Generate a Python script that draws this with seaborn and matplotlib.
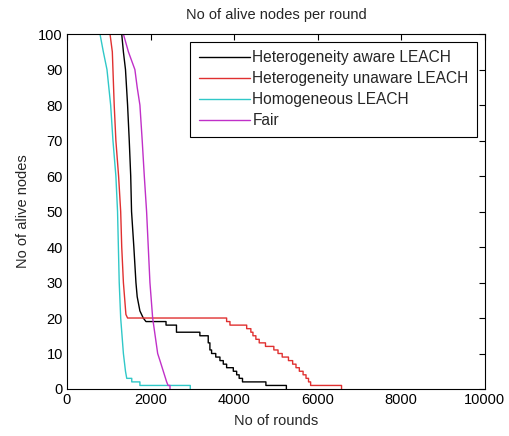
import pandas as pd
import seaborn as sns
import matplotlib
matplotlib.use("Agg")
import matplotlib.pyplot as plt

# values (rounds, alive nodes); repeated x = a one-step drop
aware_rounds = [0, 1310, 1350, 1400, 1450, 1490, 1525, 1545, 1600, 1650, 1680, 1745, 1825, 1890,
                2370, 2370, 2620, 2620, 3180, 3180, 3380, 3380, 3420, 3420, 3460, 3460,
                3560, 3560, 3660, 3660, 3740, 3740, 3820, 3820, 3980, 3980, 4060, 4060,
                4120, 4120, 4200, 4200, 4760, 4760, 5250, 5250]
aware_alive = [100, 100, 95, 90, 80, 70, 60, 50, 40, 30, 26, 22, 20, 19,
               19, 18, 18, 16, 16, 15, 15, 13, 13, 11, 11, 10,
               10, 9, 9, 8, 8, 7, 7, 6, 6, 5, 5, 4,
               4, 3, 3, 2, 2, 1, 1, 0]

unaware_rounds = [0, 1030, 1085, 1100, 1130, 1170, 1235, 1285, 1310, 1350, 1410, 1450,
                  3820, 3820, 3900, 3900, 4300, 4300, 4400, 4400, 4450, 4450, 4520, 4520,
                  4600, 4600, 4750, 4750, 4950, 4950, 5050, 5050, 5150, 5150, 5300, 5300,
                  5400, 5400, 5480, 5480, 5560, 5560, 5650, 5650, 5720, 5720, 5780, 5780,
                  5830, 5830, 6570, 6570]
unaware_alive = [100, 100, 95, 90, 80, 70, 60, 50, 40, 30, 21, 20,
                 20, 19, 19, 18, 18, 17, 17, 16, 16, 15, 15, 14,
                 14, 13, 13, 12, 12, 11, 11, 10, 10, 9, 9, 8,
                 8, 7, 7, 6, 6, 5, 5, 4, 4, 3, 3, 2,
                 2, 1, 1, 0]

homog_rounds = [0, 790, 870, 957, 1045, 1100, 1170, 1210, 1230, 1250, 1285, 1350, 1400, 1430,
                1550, 1550, 1745, 1745, 2950, 2950]
homog_alive = [100, 100, 95, 90, 80, 70, 60, 50, 40, 30, 20, 10, 5, 3,
               3, 2, 2, 1, 1, 0]

fair_rounds = [0, 1350, 1470, 1625, 1680, 1745, 1800, 1850, 1905, 1945, 1985, 2050, 2110,
               2170, 2225, 2305, 2385, 2420, 2465, 2465]
fair_alive = [100, 100, 95, 90, 85, 80, 70, 60, 50, 40, 30, 20, 15,
              10, 8, 5, 2, 1, 1, 0]

labels = ["Heterogeneity aware LEACH", "Heterogeneity unaware LEACH", "Homogeneous LEACH", "Fair"]
colors = ["#000000", "#e03030", "#30c8c8", "#c030c8"]

frames = []
for lab, r, a in zip(labels,
                     [aware_rounds, unaware_rounds, homog_rounds, fair_rounds],
                     [aware_alive, unaware_alive, homog_alive, fair_alive]):
    frames.append(pd.DataFrame({"rounds": r, "alive": a, "scheme": lab}))
df = pd.concat(frames, ignore_index=True)

sns.set_theme(style="white")
plt.rcParams["font.family"] = ["Liberation Sans", "DejaVu Sans"]
plt.rcParams["font.size"] = 10

fig = plt.figure(figsize=(5.09, 4.36), dpi=100)
ax = fig.add_axes([0.1316, 0.1078, 0.821, 0.814])

sns.lineplot(data=df, x="rounds", y="alive", hue="scheme", hue_order=labels,
             palette=colors, estimator=None, sort=False, linewidth=1.0, ax=ax)

ax.set_xlim(0, 10000)
ax.set_ylim(0, 100)
ax.set_xticks(range(0, 10001, 2000))
ax.set_yticks(range(0, 101, 10))
ax.tick_params(direction="in", top=True, right=True, length=4, width=0.8,
               labelsize=10.5, colors="black", pad=3)
for s in ax.spines.values():
    s.set_color("black")
    s.set_linewidth(0.8)

ax.set_xlabel("No of rounds", fontsize=10.5, labelpad=5)
ax.set_ylabel("No of alive nodes", fontsize=10.5, labelpad=6)
ax.set_title("No of alive nodes per round", fontsize=10.5, pad=11)

leg = ax.legend(loc="upper right", frameon=True, fancybox=False, framealpha=1,
                edgecolor="black", fontsize=11.2, handlelength=3.3, handletextpad=0.15,
                labelspacing=0.38, borderaxespad=0.5, borderpad=0.55)
leg.get_frame().set_linewidth(0.8)

fig.savefig("out.png", dpi=100)
